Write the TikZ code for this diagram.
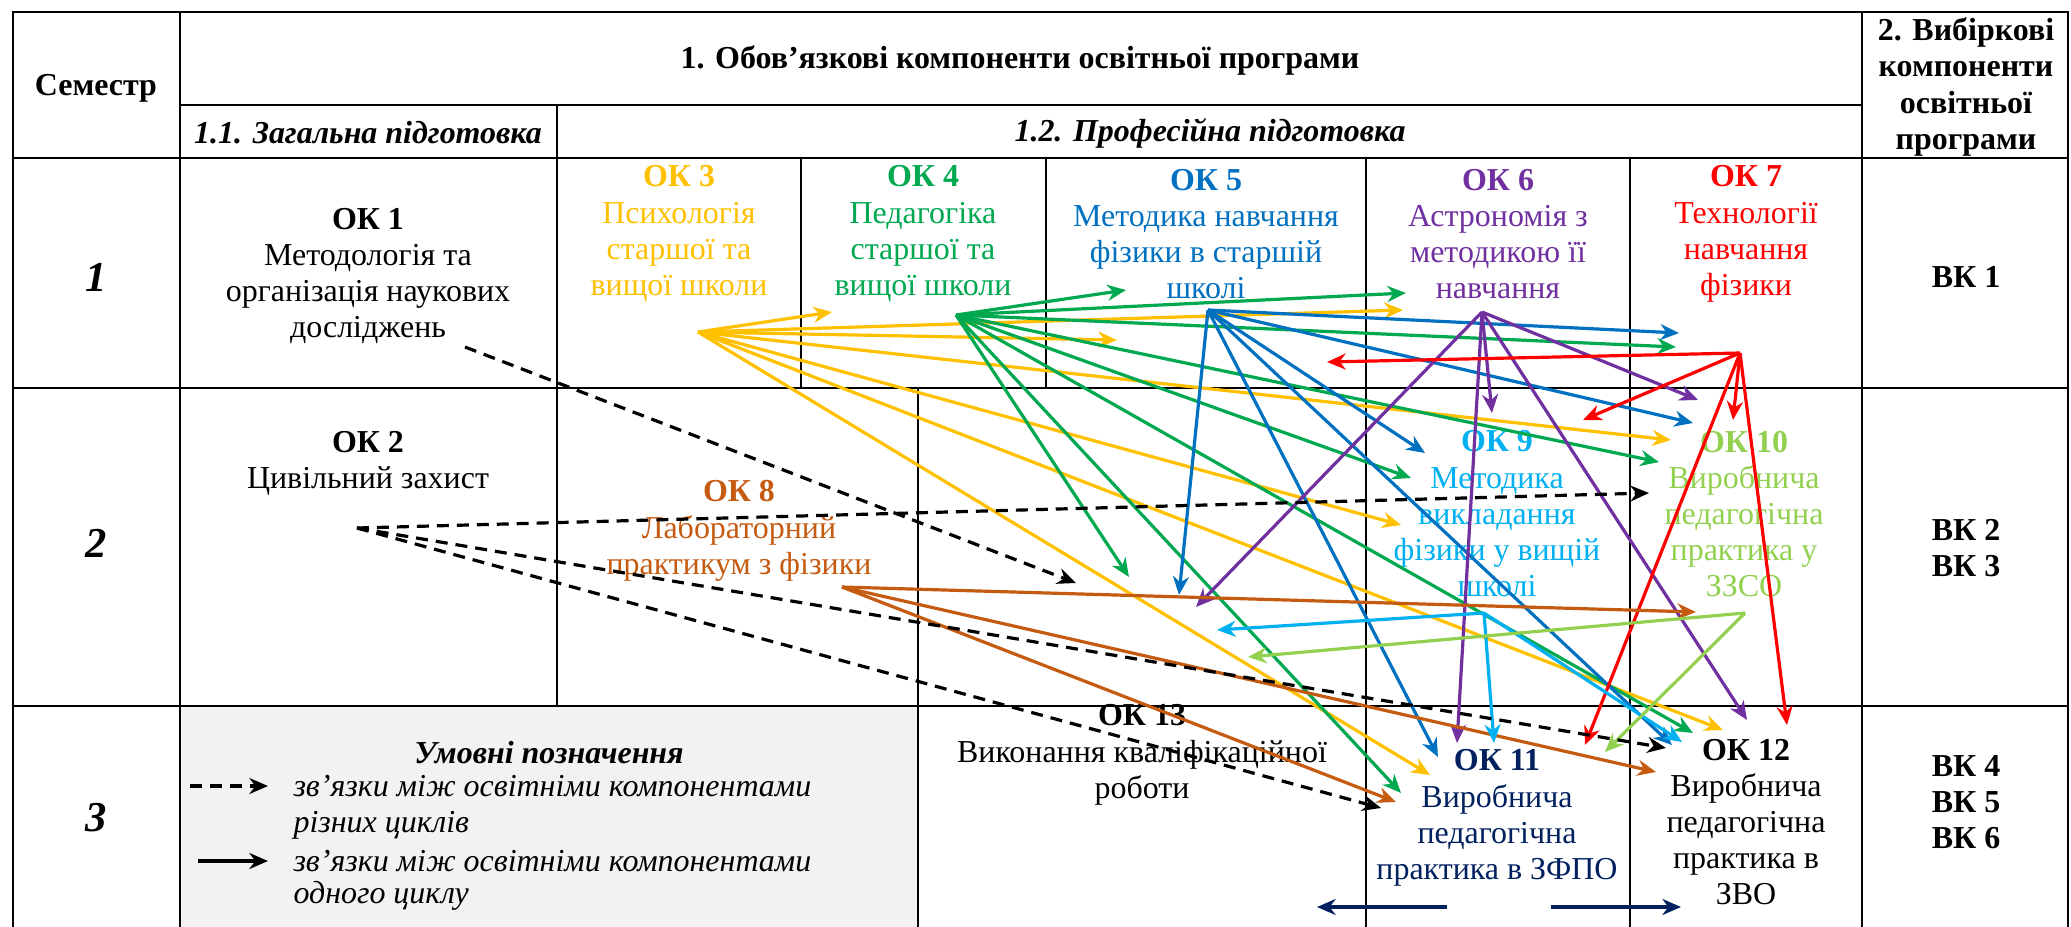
\documentclass[tikz,border=0pt]{standalone}
\usepackage{fontspec}
\setmainfont{Liberation Serif}
\usetikzlibrary{arrows.meta}

\definecolor{cgold}{HTML}{FFC000}
\definecolor{cgreen}{HTML}{00A850}
\definecolor{cblue}{HTML}{0070C0}
\definecolor{cpurple}{HTML}{7030A0}
\definecolor{cred}{HTML}{FF0000}
\definecolor{cbrown}{HTML}{C55A11}
\definecolor{ccyan}{HTML}{00B0F0}
\definecolor{clime}{HTML}{92D050}
\definecolor{cnavy}{HTML}{002060}
\definecolor{cgray}{HTML}{F2F2F2}

\def\link#1#2#3{%
  \coordinate (tip) at (#3);
  \draw[link,#1] (#2) -- (tip);
}

\begin{document}
\begin{tikzpicture}[x=0.0132cm,y=-0.0132cm,
  rule/.style={line width=1pt},
  txt/.style={align=center,inner sep=0pt,font=\fontsize{12}{13.6}\selectfont},
  bold/.style={align=center,inner sep=0pt,font=\fontsize{12}{13.6}\selectfont\bfseries},
  sub/.style={inner sep=0pt,font=\fontsize{12}{13.6}\selectfont\bfseries\itshape},
  semno/.style={inner sep=0pt,font=\fontsize{16}{18}\selectfont\bfseries\itshape},
  legtxt/.style={anchor=west,inner sep=0pt,font=\fontsize{12}{13.6}\selectfont\itshape},
  link/.style={line width=1.2pt,-{Stealth[length=7pt,width=6pt]}},
  dlink/.style={link,black,dash pattern=on 4.5pt off 3pt}]
\useasboundingbox (0,0) rectangle (2071,927);

\fill[cgray] (180,706) rectangle (918,927);
\draw[rule] (13,927) -- (13,12) -- (2068,12) -- (2068,927);
\draw[rule] (180,105) -- (1862,105);
\draw[rule] (13,158) -- (2068,158);
\draw[rule] (13,388) -- (2068,388);
\draw[rule] (13,706) -- (2068,706);
\draw[rule] (180,12) -- (180,927);
\draw[rule] (557,105) -- (557,706);
\draw[rule] (801,158) -- (801,388);
\draw[rule] (1046,158) -- (1046,388);
\draw[rule] (918,388) -- (918,927);
\draw[rule] (1366,158) -- (1366,927);
\draw[rule] (1630,158) -- (1630,927);
\draw[rule] (1862,12) -- (1862,927);

\draw (96,88) node[bold] (sem) {Семестр};
\draw (1020,60) node[bold] (obv) {1. Обов’язкові компоненти освітньої програми};
\draw (368,133) node[sub] (zag) {1.1. Загальна підготовка};
\draw (1210,133) node[sub] (prof) {1.2. Професійна підготовка};
\draw (1966,87) node[bold] (vyb) {2. Вибіркові\\компоненти\\освітньої\\програми};
\draw (96,277) node[semno] (s1) {1};
\draw (96,543) node[semno] (s2) {2};
\draw (96,818) node[semno] (s3) {3};

\draw (368,276) node[txt] (ok1) {\textbf{ОК 1}\\Методологія та\\організація наукових\\досліджень};
\draw (679,234) node[txt,cgold] (ok3) {\textbf{ОК 3}\\Психологія\\старшої та\\вищої школи};
\draw (923,234) node[txt,cgreen] (ok4) {\textbf{ОК 4}\\Педагогіка\\старшої та\\вищої школи};
\draw (1206,234) node[txt,cblue] (ok5) {\textbf{ОК 5}\\Методика навчання\\фізики в старшій\\школі};
\draw (1498,234) node[txt,cpurple] (ok6) {\textbf{ОК 6}\\Астрономія з\\методикою її\\навчання};
\draw (1746,234) node[txt,cred] (ok7) {\textbf{ОК 7}\\Технології\\навчання\\фізики};
\draw (1966,277) node[bold] (vk1) {ВК 1};

\draw (368,463) node[txt] (ok2) {\textbf{ОК 2}\\Цивільний захист};
\draw (739,531) node[txt,cbrown] (ok8) {\textbf{ОК 8}\\Лабораторний\\практикум з фізики};
\draw (1497,514) node[txt,ccyan] (ok9) {\textbf{ОК 9}\\Методика\\викладання\\фізики у вищій\\школі};
\draw (1744,514) node[txt,clime] (ok10) {\textbf{ОК 10}\\Виробнича\\педагогічна\\практика у\\ЗЗСО};
\draw (1966,548) node[bold] (vk2) {ВК 2\\ВК 3};

\draw (549,753) node[sub] (leg) {Умовні позначення};
\draw (293,786) node[legtxt] (lg1) {зв’язки між освітніми компонентами};
\draw (293,825) node[legtxt] (lg2) {різних циклів};
\draw (293,861) node[legtxt] (lg3) {зв’язки між освітніми компонентами};
\draw (293,896) node[legtxt] (lg4) {одного циклу};
\draw (1142,755) node[txt] (ok13) {\textbf{ОК 13}\\Виконання кваліфікаційної\\роботи};
\draw (1497,818) node[txt,cnavy] (ok11) {\textbf{ОК 11}\\Виробнича\\педагогічна\\практика в ЗФПО};
\draw (1746,822) node[txt] (ok12) {\textbf{ОК 12}\\Виробнича\\педагогічна\\практика в\\ЗВО};
\draw (1966,802) node[bold] (vk4) {ВК 4\\ВК 5\\ВК 6};

\coordinate (h1) at (465,347);
\coordinate (h2) at (357,528);
\coordinate (h3) at (698,332);
\coordinate (h4) at (956,315);
\coordinate (h5) at (1208,310);
\coordinate (h6) at (1482,312);
\coordinate (h7) at (1740,353);
\coordinate (h8) at (842,587);
\coordinate (h9) at (1484,613);
\coordinate (h10) at (1745,613);

\link{cgold}{h3}{832,312}  \link{cgold}{h3}{1117,340}
\link{cgold}{h3}{1403,310} \link{cgold}{h3}{1401,525}
\link{cgold}{h3}{1671,440} \link{cgold}{h3}{1430,775}
\link{cgold}{h3}{1723,730}

\link{cgreen}{h4}{1126,290} \link{cgreen}{h4}{1406,293}
\link{cgreen}{h4}{1676,347} \link{cgreen}{h4}{1411,478}
\link{cgreen}{h4}{1659,462} \link{cgreen}{h4}{1129,577}
\link{cgreen}{h4}{1401,793} \link{cgreen}{h4}{1693,733}

\link{cblue}{h5}{1679,333} \link{cblue}{h5}{1425,453}
\link{cblue}{h5}{1693,423} \link{cblue}{h5}{1179,595}
\link{cblue}{h5}{1438,757} \link{cblue}{h5}{1672,745}

\link{cpurple}{h6}{1492,413} \link{cpurple}{h6}{1698,400}
\link{cpurple}{h6}{1196,607} \link{cpurple}{h6}{1457,743}
\link{cpurple}{h6}{1747,720}

\link{cred}{h7}{1327,362} \link{cred}{h7}{1583,420}
\link{cred}{h7}{1733,420} \link{cred}{h7}{1585,745}
\link{cred}{h7}{1787,725}

\link{cbrown}{h8}{1696,612} \link{cbrown}{h8}{1396,802}
\link{cbrown}{h8}{1656,772}

\link{ccyan}{h9}{1217,630} \link{ccyan}{h9}{1494,743}
\link{ccyan}{h9}{1682,742}

\link{clime}{h10}{1248,657} \link{clime}{h10}{1605,752}

\link{dlink}{h1}{1076,583}
\link{dlink}{h2}{1649,493} \link{dlink}{h2}{1666,748}
\link{dlink}{h2}{1381,808}

\coordinate (n1) at (1447,907);
\coordinate (n2) at (1317,907);
\coordinate (n3) at (1551,907);
\coordinate (n4) at (1681,907);
\draw[link,cnavy] (n1) -- (n2);
\draw[link,cnavy] (n3) -- (n4);

\coordinate (la) at (190,786);
\coordinate (lb) at (268,786);
\coordinate (lc) at (198,861);
\coordinate (ld) at (268,861);
\draw[dlink] (la) -- (lb);
\draw[link,black] (lc) -- (ld);
\end{tikzpicture}
\end{document}
